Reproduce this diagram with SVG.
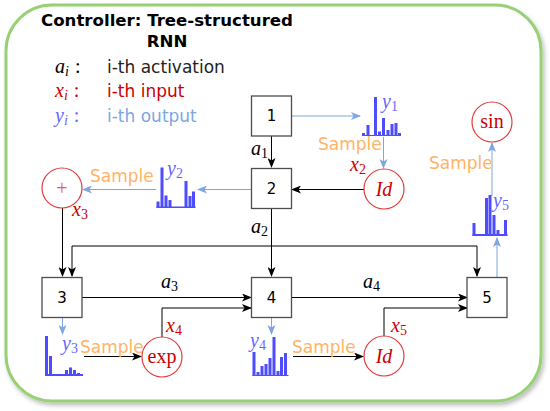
<svg xmlns="http://www.w3.org/2000/svg" width="550" height="411" viewBox="0 0 550 411">
<defs>
<marker id="ab" viewBox="0 0 10 8" refX="9" refY="4" markerWidth="10" markerHeight="8" markerUnits="userSpaceOnUse" orient="auto"><path d="M0,0 L10,4 L0,8 L2.5,4 z" fill="#000"/></marker>
<marker id="al" viewBox="0 0 10 8" refX="9" refY="4" markerWidth="10" markerHeight="8" markerUnits="userSpaceOnUse" orient="auto"><path d="M0,0 L10,4 L0,8 L2.5,4 z" fill="#7EA6E0"/></marker>
<filter id="sh" x="-5%" y="-5%" width="110%" height="115%"><feDropShadow dx="2" dy="3" stdDeviation="2" flood-color="#000" flood-opacity="0.25"/></filter>
<style>
.box{fill:#fff;stroke:#4d4d4d;stroke-width:1.3}
.cir{fill:#fff;stroke:#E03C3C;stroke-width:1.2}
.bn{font-family:"DejaVu Sans",sans-serif;font-size:15px;fill:#000;text-anchor:middle}
.txt{font-family:"DejaVu Sans",sans-serif;font-size:17px}
.smp{font-family:"DejaVu Sans",sans-serif;font-size:17px;fill:#FFB366}
.m{font-family:"Liberation Serif","DejaVu Serif",serif;font-style:italic;font-size:20px}
.sub{font-size:14px}
.up{font-style:normal}
.red{fill:#CC0000}
.yl{fill:#6666FF}
.bar{fill:#4D4DFF}
.k{fill:none;stroke:#000;stroke-width:1;marker-end:url(#ab)}
.kl{fill:none;stroke:#000;stroke-width:1}
.b{fill:none;stroke:#7EA6E0;stroke-width:1;marker-end:url(#al)}
</style>
</defs>
<rect x="6" y="5" width="535" height="396" rx="46" ry="46" fill="#fff" stroke="#97D077" stroke-width="3" filter="url(#sh)"/>

<g id="title">
<text x="167" y="26" text-anchor="middle" font-family="DejaVu Sans, sans-serif" font-weight="bold" font-size="16.6">Controller: Tree-structured</text>
<text x="167" y="47" text-anchor="middle" font-family="DejaVu Sans, sans-serif" font-weight="bold" font-size="16.6">RNN</text>
</g>
<g id="legend">
<text class="m" x="55" y="73">a<tspan class="sub" dy="3">i</tspan><tspan class="up" dy="-3" dx="6">:</tspan></text>
<text class="txt" x="107" y="73" fill="#222">i-th activation</text>
<text class="m red" x="55" y="97">x<tspan class="sub" dy="3">i</tspan><tspan class="up" dy="-3" dx="6">:</tspan></text>
<text class="txt red" x="107" y="97">i-th input</text>
<text class="m yl" x="55" y="122">y<tspan class="sub" dy="3">i</tspan><tspan class="up" dy="-3" dx="6">:</tspan></text>
<text class="txt" x="107" y="122" fill="#7EA6E0">i-th output</text>
</g>

<g id="connectors">
<path class="k" d="M271.5,136 V167"/>
<path class="b" d="M291.5,116 H360"/>
<path class="b" d="M383.5,137 V168"/>
<path class="k" d="M364,189.5 H292"/>
<path class="b" d="M251.5,189.5 H198"/>
<path class="b" d="M156,189.5 H83"/>
<path class="k" d="M62.5,208 V276"/>
<path class="k" d="M271.5,209 V276"/>
<path class="kl" d="M72,246 H477"/>
<path class="k" d="M72,246 V276"/>
<path class="k" d="M477,246 V276"/>
<path class="b" d="M497,277 V238"/>
<path class="b" d="M492,196 V143"/>
<path class="k" d="M82,297.5 H251"/>
<path class="k" d="M162,337 V308 H251"/>
<path class="k" d="M292,297.5 H467"/>
<path class="k" d="M384,336 V308 H467"/>
<path class="b" d="M62.5,318 V334"/>
<path class="b" d="M271.5,318 V334"/>
<path class="k" d="M84,356.5 H141"/>
<path class="k" d="M293,356.5 H363"/>
</g>

<g id="conn-labels">
<text class="m" x="251" y="155">a<tspan class="sub up" dy="3">1</tspan></text>
<text class="m" x="251" y="233">a<tspan class="sub up" dy="3">2</tspan></text>
<text class="m" x="161" y="288">a<tspan class="sub up" dy="3">3</tspan></text>
<text class="m" x="363" y="288">a<tspan class="sub up" dy="3">4</tspan></text>
<text class="m red" x="350" y="171">x<tspan class="sub up" dy="3">2</tspan></text>
<text class="m red" x="72" y="216">x<tspan class="sub up" dy="3">3</tspan></text>
<text class="m red" x="166" y="332">x<tspan class="sub up" dy="3">4</tspan></text>
<text class="m red" x="391" y="332">x<tspan class="sub up" dy="3">5</tspan></text>
<text class="smp" x="318" y="150">Sample</text>
<text class="smp" x="90" y="182">Sample</text>
<text class="smp" x="429" y="169">Sample</text>
<text class="smp" x="80" y="353">Sample</text>
<text class="smp" x="292" y="353">Sample</text>
</g>

<g id="node1"><rect class="box" x="251.5" y="96" width="40" height="40"/><text class="bn" x="271.5" y="121">1</text></g>
<g id="node2"><rect class="box" x="251.5" y="168.5" width="40" height="40"/><text class="bn" x="271.5" y="194">2</text></g>
<g id="node3"><rect class="box" x="42" y="277.5" width="40" height="40"/><text class="bn" x="62" y="303">3</text></g>
<g id="node4"><rect class="box" x="251.5" y="277.5" width="40" height="40"/><text class="bn" x="271.5" y="303">4</text></g>
<g id="node5"><rect class="box" x="467" y="277.5" width="40" height="40"/><text class="bn" x="487" y="303">5</text></g>

<g id="id2"><circle class="cir" cx="384" cy="189" r="20"/><text class="m red" x="384" y="196" text-anchor="middle" font-size="21">Id</text></g>
<g id="plus"><circle class="cir" cx="62" cy="188" r="20"/><text x="62" y="195" text-anchor="middle" font-family="Liberation Serif, serif" font-size="20" fill="#E06060">+</text></g>
<g id="sin"><circle class="cir" cx="492" cy="122" r="20"/><text x="492" y="128" text-anchor="middle" font-family="Liberation Serif, serif" font-size="20" fill="#CC0000">sin</text></g>
<g id="exp"><circle class="cir" cx="162" cy="357" r="20"/><text x="162" y="363" text-anchor="middle" font-family="Liberation Serif, serif" font-size="20" fill="#CC0000">exp</text></g>
<g id="id5"><circle class="cir" cx="384" cy="356" r="20"/><text class="m red" x="384" y="363" text-anchor="middle" font-size="21">Id</text></g>

<g id="hist1">
<rect class="bar" x="362" y="133" width="3" height="3"/><rect class="bar" x="366.5" y="125" width="3" height="11"/><rect class="bar" x="374" y="97" width="3" height="39"/><rect class="bar" x="378" y="131.5" width="3" height="4.5"/><rect class="bar" x="382" y="118" width="3" height="18"/><rect class="bar" x="386.5" y="130" width="3" height="6"/><rect class="bar" x="390.5" y="124" width="3" height="12"/><rect class="bar" x="394.5" y="123" width="3" height="13"/><rect class="bar" x="398" y="133" width="3" height="3"/><rect class="bar" x="362" y="135" width="39" height="1"/>
<text class="m yl" x="382" y="108">y<tspan class="sub up" dy="3">1</tspan></text>
</g>
<g id="hist2">
<rect class="bar" x="156.5" y="201.5" width="3" height="6.5"/><rect class="bar" x="160.5" y="167.5" width="3" height="40.5"/><rect class="bar" x="164.5" y="195.5" width="3" height="12.5"/><rect class="bar" x="168.5" y="200" width="3" height="8"/><rect class="bar" x="184.5" y="181" width="3" height="27"/><rect class="bar" x="188.5" y="196" width="3" height="12"/><rect class="bar" x="192" y="191.5" width="3" height="16.5"/><rect class="bar" x="156.5" y="206.5" width="39" height="1.5"/>
<text class="m yl" x="167" y="175">y<tspan class="sub up" dy="3">2</tspan></text>
</g>
<g id="hist3">
<rect class="bar" x="45" y="336" width="3" height="40"/><rect class="bar" x="49" y="356" width="3" height="20"/><rect class="bar" x="65" y="370" width="3" height="6"/><rect class="bar" x="69" y="367.5" width="3" height="8.5"/><rect class="bar" x="73" y="370" width="3" height="6"/><rect class="bar" x="77" y="373" width="3" height="3"/><rect class="bar" x="45" y="374" width="38" height="2"/>
<text class="m yl" x="62" y="350">y<tspan class="sub up" dy="3">3</tspan></text>
</g>
<g id="hist4">
<rect class="bar" x="252.5" y="352" width="3" height="24"/><rect class="bar" x="256.5" y="372" width="3" height="4"/><rect class="bar" x="260.5" y="366" width="3" height="10"/><rect class="bar" x="264.5" y="364" width="3" height="12"/><rect class="bar" x="268.5" y="358" width="3" height="18"/><rect class="bar" x="272.5" y="337" width="3" height="39"/><rect class="bar" x="276.5" y="371" width="3" height="5"/><rect class="bar" x="280" y="357" width="3" height="19"/><rect class="bar" x="284" y="353" width="3" height="23"/><rect class="bar" x="252.5" y="375" width="36" height="1"/>
<text class="m yl" x="250" y="347">y<tspan class="sub up" dy="3">4</tspan></text>
</g>
<g id="hist5">
<rect class="bar" x="472.5" y="223" width="3" height="13"/><rect class="bar" x="485" y="198" width="3" height="38"/><rect class="bar" x="488.5" y="195" width="3" height="41"/><rect class="bar" x="492.5" y="215" width="3" height="21"/><rect class="bar" x="496.5" y="230" width="3" height="6"/><rect class="bar" x="504" y="220" width="3" height="16"/><rect class="bar" x="472.5" y="234" width="35" height="2"/>
<text class="m yl" x="493" y="207">y<tspan class="sub up" dy="3">5</tspan></text>
</g>
</svg>
